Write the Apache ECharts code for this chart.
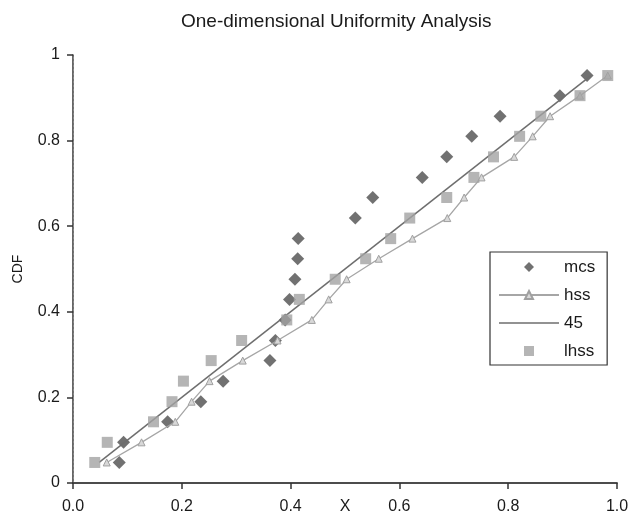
<!DOCTYPE html>
<html>
<head>
<meta charset="utf-8">
<script src="https://cdn.jsdelivr.net/npm/echarts@6/dist/echarts.min.js"></script>
<style>
  html, body { margin: 0; padding: 0; background: #fff; }
  #chart { width: 629px; height: 518px; }
</style>
</head>
<body>
<div id="chart"></div>
<script>
// Empirical CDF levels shared by the three samples (20 points each)
const cdfLevels = [0.048, 0.095, 0.143, 0.190, 0.238, 0.286, 0.333, 0.381, 0.429, 0.476,
                   0.524, 0.571, 0.619, 0.667, 0.714, 0.762, 0.810, 0.857, 0.905, 0.952];

// Sorted sample values for each sampling scheme
const mcsX  = [0.085, 0.093, 0.174, 0.235, 0.276, 0.362, 0.372, 0.390, 0.398, 0.408,
               0.413, 0.414, 0.519, 0.551, 0.642, 0.687, 0.733, 0.785, 0.895, 0.945];
const hssX  = [0.062, 0.126, 0.188, 0.218, 0.251, 0.312, 0.376, 0.439, 0.470, 0.503,
               0.562, 0.624, 0.688, 0.719, 0.751, 0.811, 0.845, 0.877, 0.932, 0.983];
const lhssX = [0.040, 0.063, 0.148, 0.182, 0.203, 0.254, 0.310, 0.393, 0.416, 0.482,
               0.538, 0.584, 0.619, 0.687, 0.737, 0.773, 0.821, 0.860, 0.932, 0.983];

// Reference 45-degree line end points
const refX = [0.048, 0.952];
const refY = [0.048, 0.952];

const seriesNames = ['mcs', 'hss', '45', 'lhss'];

const pair = (xs, ys) => xs.map((x, i) => [x, ys[i]]);

const chart = echarts.init(document.getElementById('chart'), null, { renderer: 'canvas' });

const font = 'Liberation Sans, Arial, sans-serif';
const TEXT_COLOR = '#1a1a1a';
const MCS_COLOR = '#4d4d4d';
const HSS_COLOR = '#a6a6a6';
const REF_COLOR = '#6e6e6e';
const LHSS_COLOR = '#a3a3a3';

// Legend glyphs drawn as paths so they keep their aspect ratio
const diamondIcon = 'path://M5,0L10,5L5,10L0,5Z';
const squareIcon = 'path://M0,0H10V10H0Z';
const lineIcon = 'path://M0,0H60V1.4H0Z';

chart.setOption({
  backgroundColor: '#ffffff',
  animation: false,
  title: {
    text: 'One-dimensional Uniformity Analysis',
    left: 176,
    top: 7,
    textStyle: { fontFamily: font, fontSize: 19, fontWeight: 'normal', color: TEXT_COLOR }
  },
  grid: { left: 73, right: 12, top: 55, bottom: 35, outerBoundsMode: 'none' },
  legend: {
    orient: 'vertical',
    left: 490,
    top: 252,
    padding: [5, 12, 4, 8],
    borderColor: '#333',
    borderWidth: 1.2,
    backgroundColor: '#fff',
    itemWidth: 60,
    itemHeight: 10,
    itemGap: 8,
    align: 'left',
    textStyle: { fontFamily: font, fontSize: 17, color: TEXT_COLOR, lineHeight: 20 },
    data: [
      { name: seriesNames[0], icon: diamondIcon, itemStyle: { color: MCS_COLOR } },
      { name: seriesNames[1] },
      { name: seriesNames[2], icon: lineIcon, itemStyle: { color: REF_COLOR } },
      { name: seriesNames[3], icon: squareIcon, itemStyle: { color: LHSS_COLOR } }
    ]
  },
  xAxis: [{
    type: 'value',
    min: 0, max: 1, interval: 0.2,
    name: 'X',
    nameLocation: 'middle',
    nameGap: 16,
    nameMoveOverlap: false,
    nameTextStyle: { fontFamily: font, fontSize: 16, color: TEXT_COLOR },
    axisLine: { show: true, lineStyle: { color: '#333', width: 1.5 } },
    axisTick: { show: true, inside: false, length: 6, lineStyle: { color: '#333', width: 1.5 } },
    axisLabel: {
      fontFamily: font, fontSize: 16, color: TEXT_COLOR, margin: 16,
      formatter: v => v.toFixed(1)
    },
    splitLine: { show: false }
  }, {
    type: 'value',
    position: 'top',
    min: 0, max: 1,
    axisLine: { show: true, lineStyle: { color: '#444', width: 1.5 } },
    axisTick: { show: false },
    axisLabel: { show: false },
    splitLine: { show: false }
  }],
  yAxis: [{
    type: 'value',
    min: 0, max: 1, interval: 0.2,
    name: 'CDF',
    nameLocation: 'middle',
    nameGap: 48,
    nameRotate: 90,
    nameMoveOverlap: false,
    nameTextStyle: { fontFamily: font, fontSize: 14, color: TEXT_COLOR },
    axisLine: { show: true, lineStyle: { color: '#333', width: 1.5 } },
    axisTick: { show: true, inside: false, length: 6, lineStyle: { color: '#333', width: 1.5 } },
    axisLabel: { fontFamily: font, fontSize: 16, color: TEXT_COLOR, margin: 13 },
    splitLine: { show: false }
  }, {
    type: 'value',
    position: 'right',
    min: 0, max: 1,
    axisLine: { show: true, lineStyle: { color: '#888', width: 1, type: [2, 2] } },
    axisTick: { show: false },
    axisLabel: { show: false },
    splitLine: { show: false }
  }],
  series: [{
    name: seriesNames[0],
    type: 'scatter',
    symbol: 'diamond',
    symbolSize: 13,
    itemStyle: { color: MCS_COLOR },
    data: pair(mcsX, cdfLevels),
    z: 2
  }, {
    name: seriesNames[1],
    type: 'line',
    symbol: 'triangle',
    symbolSize: 7,
    showAllSymbol: true,
    lineStyle: { color: HSS_COLOR, width: 1.3 },
    itemStyle: { color: '#d8d8d8', borderColor: '#a0a0a0', borderWidth: 1 },
    data: pair(hssX, cdfLevels),
    z: 3
  }, {
    name: seriesNames[2],
    type: 'line',
    symbol: 'none',
    lineStyle: { color: REF_COLOR, width: 1.5 },
    itemStyle: { color: REF_COLOR },
    data: pair(refX, refY),
    z: 4
  }, {
    name: seriesNames[3],
    type: 'scatter',
    symbol: 'rect',
    symbolSize: 11,
    itemStyle: { color: LHSS_COLOR },
    data: pair(lhssX, cdfLevels),
    z: 5
  }]
});
</script>
</body>
</html>
